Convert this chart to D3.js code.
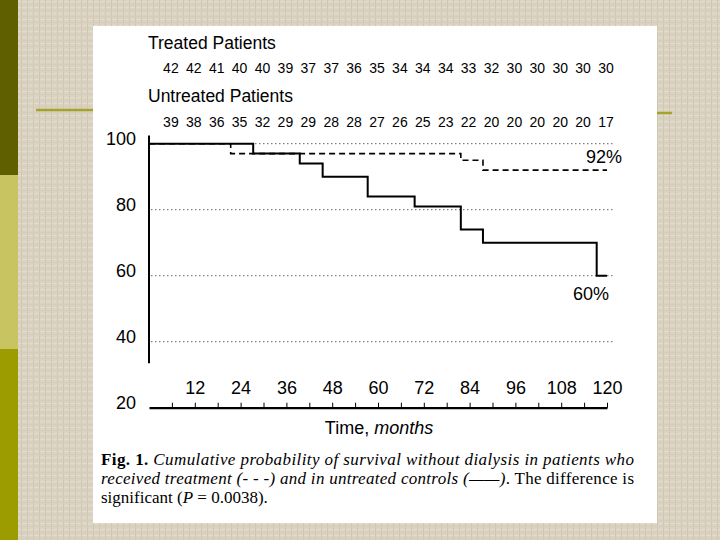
<!DOCTYPE html>
<html>
<head>
<meta charset="UTF-8">
<style>
  body { margin: 0; }
  svg { display: block; }
</style>
</head>
<body>
<div id="chart"></div>
<script src="https://d3js.org/d3.v7.min.js"></script>
<script>

// at-risk counts, one every 6 months
const riskMonths = [6, 12, 18, 24, 30, 36, 42, 48, 54, 60, 66, 72, 78, 84, 90, 96, 102, 108, 114, 120];
const treatedAtRisk = [42, 42, 41, 40, 40, 39, 37, 37, 36, 35, 34, 34, 34, 33, 32, 30, 30, 30, 30, 30];
const untreatedAtRisk = [39, 38, 36, 35, 32, 29, 29, 28, 28, 27, 26, 25, 23, 22, 20, 20, 20, 20, 20, 17];

// survival steps (months, percent)
const untreatedTimes = [0, 27.3, 39.5, 45.5, 57.3, 69.6, 81.7, 87.5, 117.3, 120];
const untreatedSurv = [100, 97, 94, 90, 84, 81, 74, 70, 60, 60];
const treatedTimes = [0, 21.4, 81.7, 87.5, 120];
const treatedSurv = [100, 97, 95, 92, 92];

const yTicks = [100, 80, 60, 40, 20];
const gridLevels = [100, 80, 60, 40];
const xTickValues = [6, 12, 18, 24, 30, 36, 42, 48, 54, 60, 66, 72, 78, 84, 90, 96, 102, 108, 114, 120];

const width = 720, height = 540;
const sans = "'Liberation Sans', Arial, Helvetica, sans-serif";
const serif = "'Liberation Serif', 'Times New Roman', serif";

const svg = d3.select("#chart").append("svg")
    .attr("width", width)
    .attr("height", height);

// slide background (linen texture)
const defs = svg.append("defs");
const pat = defs.append("pattern")
    .attr("id", "tex")
    .attr("width", 6).attr("height", 6)
    .attr("patternUnits", "userSpaceOnUse");
pat.append("rect").attr("width", 6).attr("height", 6).attr("fill", "#dbd3c2");
pat.append("rect").attr("x", 0).attr("y", 1).attr("width", 6).attr("height", 1).attr("fill", "#e2dccf");
pat.append("rect").attr("x", 3).attr("y", 0).attr("width", 1).attr("height", 6).attr("fill", "#d0c6b3");
pat.append("rect").attr("x", 0).attr("y", 4).attr("width", 6).attr("height", 1).attr("fill", "#d5ccba");

svg.append("rect").attr("width", width).attr("height", height).attr("fill", "url(#tex)");

svg.append("rect").attr("x", 0).attr("y", 0).attr("width", 18).attr("height", 175).attr("fill", "#5f5f00");
svg.append("rect").attr("x", 0).attr("y", 175).attr("width", 18).attr("height", 174).attr("fill", "#c9c462");
svg.append("rect").attr("x", 0).attr("y", 349).attr("width", 18).attr("height", 191).attr("fill", "#9c9c00");

svg.append("line").attr("x1", 36).attr("x2", 95).attr("y1", 110).attr("y2", 110)
    .attr("stroke", "#a4a42c").attr("stroke-width", 2.5);
svg.append("line").attr("x1", 655).attr("x2", 672).attr("y1", 113).attr("y2", 113)
    .attr("stroke", "#a4a42c").attr("stroke-width", 2.5);

// white figure panel
svg.append("rect").attr("x", 93).attr("y", 26).attr("width", 564).attr("height", 497).attr("fill", "#fff");

// scales
const x = d3.scaleLinear().domain([0, 120]).range([149, 607]);
const y = d3.scaleLinear().domain([20, 100]).range([407.7, 143.7]);

// at-risk tables
svg.append("text").attr("x", 148).attr("y", 49)
    .style("font-family", sans).style("font-size", "17.5px")
    .text("Treated Patients");
svg.append("g").selectAll("text")
    .data(treatedAtRisk)
    .enter().append("text")
    .attr("x", (d, i) => x(riskMonths[i]) - 1)
    .attr("y", 73)
    .attr("text-anchor", "middle")
    .style("font-family", sans).style("font-size", "14px")
    .text(d => d);

svg.append("text").attr("x", 148).attr("y", 102)
    .style("font-family", sans).style("font-size", "17.5px")
    .text("Untreated Patients");
svg.append("g").selectAll("text")
    .data(untreatedAtRisk)
    .enter().append("text")
    .attr("x", (d, i) => x(riskMonths[i]) - 1)
    .attr("y", 127)
    .attr("text-anchor", "middle")
    .style("font-family", sans).style("font-size", "14px")
    .text(d => d);

// dotted grid
svg.append("g").selectAll("line")
    .data(gridLevels)
    .enter().append("line")
    .attr("x1", x(0) + 2).attr("x2", 613)
    .attr("y1", d => y(d)).attr("y2", d => y(d))
    .attr("stroke", "#666")
    .attr("stroke-width", 1)
    .attr("stroke-dasharray", "1.5,2.5");

// y axis (broken below 40)
svg.append("line")
    .attr("x1", x(0)).attr("x2", x(0))
    .attr("y1", y(102.5)).attr("y2", y(33.5))
    .attr("stroke", "#000").attr("stroke-width", 2);

svg.append("g").selectAll("text")
    .data(yTicks)
    .enter().append("text")
    .attr("x", 136)
    .attr("y", d => y(d) + 1)
    .attr("text-anchor", "end")
    .style("font-family", sans).style("font-size", "18px")
    .text(d => d);

// x axis, ticks and labels above the line
const xAxis = d3.axisTop(x)
    .tickValues(xTickValues)
    .tickSize(5)
    .tickSizeOuter(0)
    .tickPadding(9)
    .tickFormat(d => d % 12 === 0 ? d : "");

const gx = svg.append("g")
    .attr("transform", "translate(0," + y(20) + ")")
    .call(xAxis);
gx.select(".domain").attr("stroke-width", 2.2);
gx.selectAll(".tick line").attr("stroke-width", 1);
gx.selectAll(".tick text")
    .style("font-family", sans).style("font-size", "18px").attr("fill", "#000");

svg.append("text")
    .attr("x", 379).attr("y", 434)
    .attr("text-anchor", "middle")
    .style("font-family", sans).style("font-size", "18px")
    .call(t => {
        t.append("tspan").text("Time, ");
        t.append("tspan").style("font-style", "italic").text("months");
    });

// survival curves
const step = d3.line()
    .x(d => x(d[0]))
    .y(d => y(d[1]))
    .curve(d3.curveStepAfter);

svg.append("path")
    .datum(treatedTimes.map((t, i) => [t, treatedSurv[i]]))
    .attr("d", step)
    .attr("fill", "none")
    .attr("stroke", "#000")
    .attr("stroke-width", 1.6)
    .attr("stroke-dasharray", "6,4");

svg.append("path")
    .datum(untreatedTimes.map((t, i) => [t, untreatedSurv[i]]))
    .attr("d", step)
    .attr("fill", "none")
    .attr("stroke", "#000")
    .attr("stroke-width", 2);

svg.append("text").attr("x", 622).attr("y", 163)
    .attr("text-anchor", "end")
    .style("font-family", sans).style("font-size", "18px")
    .text("92%");
svg.append("text").attr("x", 609).attr("y", 300)
    .attr("text-anchor", "end")
    .style("font-family", sans).style("font-size", "18px")
    .text("60%");

// caption
const cap = svg.append("g").style("font-family", serif).style("font-size", "17px");

cap.append("text").attr("x", 101).attr("y", 465)
    .attr("textLength", 533).attr("lengthAdjust", "spacing")
    .call(t => {
        t.append("tspan").style("font-weight", "bold").text("Fig. 1. ");
        t.append("tspan").style("font-style", "italic")
            .text("Cumulative probability of survival without dialysis in patients who");
    });

cap.append("text").attr("x", 101).attr("y", 484)
    .attr("textLength", 533).attr("lengthAdjust", "spacing")
    .call(t => {
        t.append("tspan").style("font-style", "italic")
            .text("received treatment (- - -) and in untreated controls (\u2014\u2014)");
        t.append("tspan").text(". The difference is");
    });

cap.append("text").attr("x", 101).attr("y", 503)
    .call(t => {
        t.append("tspan").text("significant (");
        t.append("tspan").style("font-style", "italic").text("P");
        t.append("tspan").text(" = 0.0038).");
    });

</script>
</body>
</html>
